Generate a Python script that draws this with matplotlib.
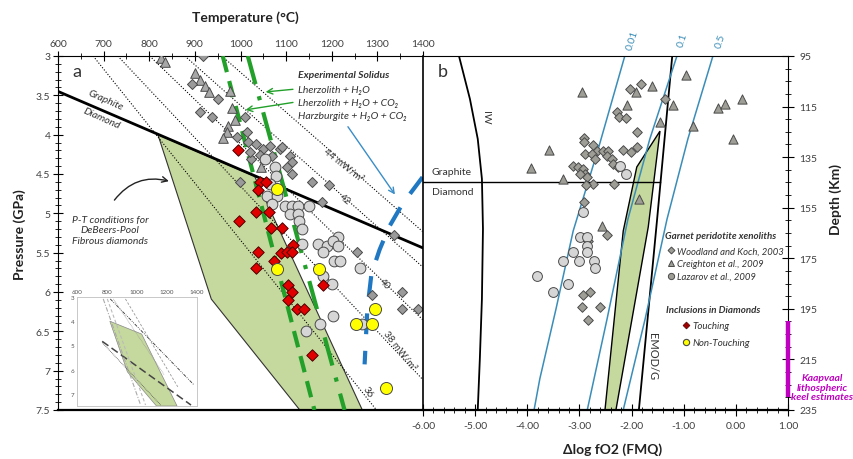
import matplotlib
matplotlib.use('agg')
import matplotlib.pyplot as plt
from matplotlib.patches import Polygon
from matplotlib.lines import Line2D
from matplotlib.ticker import MultipleLocator, FuncFormatter

plt.rcParams['font.family'] = ['Lato', 'DejaVu Sans']
plt.rcParams['axes.unicode_minus'] = False

# ---------------- panel a : temperature (C) vs pressure (GPa)
woodland_T = [917, 893, 950, 911, 937, 1009, 1014, 992, 1016, 1035, 1049, 1064, 1086, 1108, 1024, 1042,
              1070, 1090, 1112, 1103, 1112, 1020, 998, 1156, 1195, 1178, 1337, 1256, 1289, 1355, 1355, 1388]
woodland_P = [3.00, 3.36, 3.55, 3.71, 3.78, 3.78, 3.97, 4.03, 4.09, 4.12, 4.18, 4.15, 4.18, 4.27, 4.31, 4.26,
              4.27, 4.16, 4.35, 4.41, 4.50, 4.22, 4.60, 4.60, 4.64, 4.86, 5.28, 5.49, 6.04, 6.00, 6.21, 6.21]
creighton_T = [825, 834, 900, 911, 922, 930, 976, 981, 989, 972, 970, 961, 1046]
creighton_P = [3.03, 3.08, 3.22, 3.31, 3.38, 3.46, 3.45, 3.66, 3.81, 3.89, 3.97, 4.04, 4.41]
lazarov_T = [1053, 1075, 1077, 1064, 1059, 1081, 1070, 1097, 1112, 1125, 1151, 1108, 1125, 1129, 1134, 1134,
             1169, 1189, 1213, 1202, 1213, 1180, 1206, 1217, 1261, 1180, 1200, 1202, 1175, 1143, 1267]
lazarov_P = [4.31, 4.41, 4.53, 4.63, 4.78, 4.78, 4.88, 4.91, 4.91, 4.91, 4.91, 5.01, 5.01, 5.10, 5.20, 5.39,
             5.39, 5.42, 5.30, 5.35, 5.42, 5.49, 5.61, 5.61, 5.70, 5.80, 5.90, 6.31, 6.41, 6.50, 6.41]
touch_T = [994, 1042, 1055, 1038, 1035, 1062, 996, 1066, 1092, 1114, 1038, 1088, 1101, 1112, 1073, 1035,
           1105, 1112, 1105, 1123, 1140, 1156, 1180]
touch_P = [4.20, 4.60, 4.60, 4.70, 4.98, 4.98, 5.10, 5.19, 5.19, 5.40, 5.49, 5.51, 5.49, 5.49, 5.61, 5.70,
           5.91, 6.00, 6.10, 6.21, 6.21, 6.80, 5.91]
nontouch_T = [1081, 1081, 1173, 1294, 1254, 1289, 1320]
nontouch_P = [4.69, 5.71, 5.71, 6.22, 6.41, 6.41, 7.22]

# P-T field of the fibrous diamonds
field_T = [819, 1031, 1267, 1130, 936]
field_P = [4.00, 4.53, 7.50, 7.50, 6.09]
# graphite / diamond transition
gd_T = [600, 1400]
gd_P = [3.45, 5.44]
# solidi
lh2o_T = [1016, 1228]
lh2o_P = [3.0, 7.5]
lco2_T = [961, 1162]
lco2_P = [3.0, 7.5]
hz_T = [1399, 1355, 1326, 1305, 1287, 1278, 1272]
hz_P = [4.54, 4.88, 5.17, 5.46, 5.77, 6.22, 6.92]
# geotherms (mW/m2)
geo_names = ['36', '38', '40', '42', '44']
geo_T = [[677, 1298], [731, 1399], [801, 1399], [878, 1399], [959, 1399]]
geo_P = [[3.0, 7.5], [3.0, 7.11], [3.0, 6.35], [3.0, 5.68], [3.0, 5.23]]

# ---------------- panel b : delta log fO2 vs depth (km)
wk_f = [-1.82, -2.03, -1.36, -2.28, -2.24, -2.11, -1.90, -1.90, -2.16, -2.01, -2.91, -2.91, -2.74, -2.66,
        -2.89, -2.76, -2.70, -2.55, -2.45, -2.47, -2.38, -2.36, -2.26, -3.12, -3.03, -2.93, -2.89, -2.85,
        -2.74, -2.87, -2.99, -2.34, -2.91, -2.47, -2.84, -2.80, -2.93, -2.95, -2.61, -2.84]
wk_d = [106.1, 108.1, 112.0, 117.1, 119.1, 119.5, 125.1, 131.0, 132.2, 133.0, 127.4, 129.0, 130.2, 132.6,
        133.8, 133.8, 135.7, 132.6, 132.6, 134.6, 135.7, 137.7, 138.9, 138.5, 138.9, 139.7, 141.7, 142.9,
        145.6, 146.0, 141.7, 145.6, 152.7, 165.8, 168.2, 188.3, 189.5, 194.3, 194.3, 199.4]
cr_f = [-2.95, -0.96, -1.61, -1.91, -2.09, -1.21, -1.45, -0.82, -0.34, -0.21, 0.12, -0.05, -3.58, -3.93,
        -3.31, -1.86, -2.57]
cr_d = [109.2, 102.5, 106.9, 109.2, 114.4, 114.4, 121.1, 122.7, 115.6, 114.0, 112.0, 127.8, 132.2, 139.3,
        143.6, 151.6, 162.2]
lz_f = [-2.22, -2.11, -2.93, -2.99, -2.85, -2.85, -2.85, -3.12, -3.31, -3.01, -2.72, -2.70, -3.81, -3.22, -3.51]
lz_d = [138.5, 141.7, 156.7, 166.6, 166.6, 170.1, 172.5, 172.5, 176.1, 176.1, 176.1, 178.8, 182.0, 185.2, 188.3]

iw_f = [-5.31, -5.10, -4.95, -4.87, -4.85, -4.87, -4.91, -4.95]
iw_d = [95, 112, 127.8, 143.6, 163.4, 191, 214.8, 235]
iso_names = ['0.01', '0.1', '0.5']
iso_f = [[-2.13, -2.64, -3.12, -3.45, -3.76, -3.87],
         [-1.13, -1.65, -2.07, -2.47, -2.85],
         [-0.44, -0.92, -1.32, -1.74, -2.16]]
iso_d = [[95, 131.8, 164.2, 195.1, 222.7, 235],
         [95, 127.8, 159.5, 199, 235],
         [95, 127.8, 159.5, 199, 235]]
emod_f = [-1.22, -1.51, -1.86]
emod_d = [95, 159.5, 235]
fieldb_f = [-1.455, -1.90, -2.16, -2.51, -2.30, -1.68]
fieldb_d = [124.7, 138.9, 164.2, 235, 235, 162.6]
gdb_f = [-6.0, -1.455]
gdb_d = [144.8, 144.8]
keel_d = [200, 230]
depth_ticks = [95, 115, 135, 155, 175, 195, 215, 235]

# styles
c_wk, c_cr, c_lz = '#9a9a9a', '#a8a8a8', '#d6d6d6'
c_red, c_yel = '#e00000', '#ffff00'
c_edge = '#4a4a4a'
c_green = '#22a02a'
c_fill = '#c5d89d'
c_iso = '#3a8db8'
c_txt = '#333333'

fig = plt.figure(figsize=(8.54, 4.6), dpi=100)
axa = fig.add_axes([58/854, 1-411/460, 365/854, 354/460])
axb = fig.add_axes([423/854, 1-411/460, 365/854, 354/460])

# ---------- panel a
axa.add_patch(Polygon(list(zip(field_T, field_P)), closed=True, facecolor=c_fill, edgecolor='#333333', lw=0.8, zorder=1))
for T, P in zip(geo_T, geo_P):
    axa.plot(T, P, color='black', lw=0.8, ls=(0, (1, 1.6)), zorder=2)
axa.plot(gd_T, gd_P, color='black', lw=2.0, zorder=3)
axa.plot(lco2_T, lco2_P, color=c_green, lw=3, ls=(0, (4, 2.2)), zorder=3)
axa.plot(lh2o_T, lh2o_P, color=c_green, lw=3, ls=(0, (7, 3, 1, 3)), zorder=3)
axa.plot(hz_T, hz_P, color='#1f78c1', lw=3, ls=(0, (5, 4)), zorder=3)

axa.scatter(creighton_T, creighton_P, marker='^', s=48, c=c_cr, edgecolors=c_edge, linewidths=0.7, zorder=4)
axa.scatter(woodland_T, woodland_P, marker='D', s=26, c=c_wk, edgecolors=c_edge, linewidths=0.7, zorder=4)
axa.scatter(lazarov_T, lazarov_P, marker='o', s=60, c=c_lz, edgecolors=c_edge, linewidths=0.7, zorder=4)
axa.scatter(touch_T, touch_P, marker='D', s=34, c=c_red, edgecolors='#500000', linewidths=0.7, zorder=5)
axa.scatter(nontouch_T, nontouch_P, marker='o', s=75, c=c_yel, edgecolors=c_edge, linewidths=0.7, zorder=5)

axa.set_xlim(600, 1400)
axa.set_ylim(7.5, 3)
axa.xaxis.tick_top()
axa.set_xticks(range(600, 1401, 100))
axa.xaxis.set_minor_locator(MultipleLocator(50))
axa.yaxis.set_major_locator(MultipleLocator(0.5))
axa.yaxis.set_minor_locator(MultipleLocator(0.1))
axa.yaxis.set_major_formatter(FuncFormatter(lambda v, p: f'{v:g}'))
axa.tick_params(axis='x', which='both', direction='inout', top=True, bottom=False, labelsize=7.5, labelcolor='#404040', pad=2)
axa.tick_params(axis='x', which='major', length=7)
axa.tick_params(axis='x', which='minor', length=4)
axa.tick_params(axis='y', which='both', direction='inout', left=True, right=False, labelsize=7.5, labelcolor='#404040', pad=2)
axa.tick_params(axis='y', which='major', length=7)
axa.tick_params(axis='y', which='minor', length=4)
axa.spines['bottom'].set_linewidth(1.6)
axa.spines['right'].set_visible(False)

axa.text(631, 3.25, 'a', fontsize=13, color=c_txt)
axa.text(705, 3.56, 'Graphite', rotation=-24, ha='center', va='center', fontsize=7.5, style='italic', color=c_txt)
axa.text(696, 3.79, 'Diamond', rotation=-24, ha='center', va='center', fontsize=7.5, style='italic', color=c_txt)
axa.text(1125, 3.24, 'Experimental Solidus', fontsize=7.5, fontweight='bold', style='italic', color=c_txt, va='center')
axa.text(1125, 3.42, 'Lherzolith + H₂O', fontsize=7.5, style='italic', color=c_txt, va='center')
axa.text(1125, 3.585, 'Lherzolith + H₂O + CO₂', fontsize=7.5, style='italic', color=c_txt, va='center')
axa.text(1125, 3.76, 'Harzburgite + H₂O + CO₂', fontsize=7.5, style='italic', color=c_txt, va='center')
axa.annotate('', xy=(1049, 3.46), xytext=(1121, 3.42),
             arrowprops=dict(arrowstyle='->', color=c_green, lw=1))
axa.annotate('', xy=(1005, 3.69), xytext=(1121, 3.585),
             arrowprops=dict(arrowstyle='->', color=c_green, lw=1))
axa.annotate('', xy=(1342, 4.79), xytext=(1232, 3.87),
             arrowprops=dict(arrowstyle='->', color='#3a8dc8', lw=1))
axa.text(714, 5.21, 'P-T conditions for\nDeBeers-Pool\nFibrous diamonds', ha='center', va='center',
         fontsize=7.5, style='italic', color=c_txt, linespacing=1.25)
axa.annotate('', xy=(849, 4.60), xytext=(720, 4.86),
             arrowprops=dict(arrowstyle='->', color='#222222', lw=1, connectionstyle='arc3,rad=-0.35'))

geo_lab = {'44': (1226, 4.37, '44 mW/m²', -38), '42': (1228, 4.82, '42', -40),
           '40': (1315, 5.89, '40', -45), '38': (1350, 6.74, '38 mW/m²', -52), '36': (1278, 7.26, '36', -57)}
for k in geo_names:
    x, y, s, r = geo_lab[k]
    axa.text(x, y, s, rotation=r, ha='center', va='center', fontsize=7, color=c_txt)

# ---------- inset
axi = fig.add_axes([77/854, 1-407/460, 120/854, 109/460])
axi.add_patch(Polygon(list(zip(field_T, field_P)), closed=True, facecolor=c_fill, edgecolor='#888888', lw=0.5))
axi.plot([822, 1380], [3.08, 6.63], color='#333333', lw=0.6, ls=(0, (4, 1.5, 1, 1.5, 1, 1.5)))
axi.plot([768, 1360], [4.83, 7.46], color='#444444', lw=1.1, ls=(0, (5, 2.5)))
axi.plot([768, 1158], [4.88, 7.46], color='#555555', lw=0.6, ls=(0, (1, 1)))
axi.plot([775, 1024], [3.08, 7.46], color='#aaaaaa', lw=0.8, ls=(0, (4, 1.5, 1, 1.5)))
axi.plot([802, 1057], [3.08, 7.46], color='#bbbbbb', lw=0.8, ls=(0, (3, 2)))
axi.plot([923, 1272], [3.08, 6.71], color='#999999', lw=0.6, ls=(0, (3, 2)))
axi.plot([842, 1180], [3.08, 6.2], color='#999999', lw=0.5, ls=(0, (1, 1)))
axi.set_xlim(600, 1400)
axi.set_ylim(7.5, 3)
axi.xaxis.tick_top()
axi.set_xticks([600, 800, 1000, 1200, 1400])
axi.set_yticks([3, 4, 5, 6, 7])
axi.tick_params(length=0, labelsize=4.5, labelcolor='#555555', pad=2)
for sp in axi.spines.values():
    sp.set_color('#c8c8c8')
    sp.set_linewidth(0.7)

# ---------- panel b
axb.add_patch(Polygon(list(zip(fieldb_f, fieldb_d)), closed=True, facecolor=c_fill, edgecolor='black', lw=1.0, zorder=1))
axb.plot(iw_f, iw_d, color='black', lw=1.3, zorder=2)
axb.plot(emod_f, emod_d, color='black', lw=1.3, zorder=2)
for f, d, nm in zip(iso_f, iso_d, iso_names):
    axb.plot(f, d, color=c_iso, lw=1.1, zorder=2)
axb.plot(gdb_f, gdb_d, color='black', lw=1.0, zorder=2)
axb.scatter(cr_f, cr_d, marker='^', s=44, c='#9e9e96', edgecolors=c_edge, linewidths=0.7, zorder=4)
axb.scatter(wk_f, wk_d, marker='D', s=24, c='#9e9e96', edgecolors=c_edge, linewidths=0.7, zorder=4)
axb.scatter(lz_f, lz_d, marker='o', s=50, c=c_lz, edgecolors=c_edge, linewidths=0.7, zorder=4)
axb.plot([1.0, 1.0], keel_d, color='#c000c0', lw=3.2, clip_on=False, zorder=6, solid_capstyle='butt')

axb.set_xlim(-6, 1)
axb.set_ylim(235, 95)
axb.yaxis.tick_right()
axb.xaxis.set_major_locator(MultipleLocator(1))
axb.xaxis.set_minor_locator(MultipleLocator(0.2))
axb.xaxis.set_major_formatter(FuncFormatter(lambda v, p: f'{v:.2f}'))
axb.set_yticks(depth_ticks)
axb.yaxis.set_minor_locator(MultipleLocator(5))
axb.tick_params(axis='both', which='both', direction='inout', labelsize=7.5, labelcolor='#404040')
axb.tick_params(axis='x', which='both', top=False, bottom=True, pad=4)
axb.tick_params(axis='y', which='both', left=False, right=True, pad=4)
axb.tick_params(which='major', length=8)
axb.tick_params(which='minor', length=4)
axb.spines['left'].set_linewidth(1.2)
axb.spines['bottom'].set_linewidth(1.6)

axb.text(-5.72, 103, 'b', fontsize=13, color=c_txt)
axb.text(-4.80, 119, 'IW', rotation=-90, ha='center', va='center', fontsize=7.5, color=c_txt)
axb.text(-1.60, 213.5, 'EMOD/G', rotation=-90, ha='center', va='center', fontsize=8, color=c_txt)
axb.text(-5.83, 142.3, 'Graphite', ha='left', va='bottom', fontsize=7.5, color=c_txt)
axb.text(-5.83, 147.0, 'Diamond', ha='left', va='top', fontsize=7.5, color=c_txt)
iso_lab = [(-1.99, 88.6), (-1.03, 88.4), (-0.30, 89.0)]
for (x, y), nm in zip(iso_lab, iso_names):
    axb.text(x, y, nm, rotation=72, ha='center', va='center', fontsize=7.5, color=c_iso, clip_on=False)
axb.text(1.66, 226.0, 'Kaapvaal\nlithospheric\nkeel estimates', ha='center', va='center', fontsize=7.5,
         fontweight='bold', style='italic', color='#c000c0', linespacing=1.05, clip_on=False)

# legends
axb.text(0.664, 0.492, 'Garnet peridotite xenoliths', transform=axb.transAxes, fontsize=7,
         fontweight='bold', style='italic', color=c_txt, va='center')
h1 = [Line2D([], [], ls='', marker='D', ms=3.5, mfc='#9e9e96', mec=c_edge, mew=0.7),
      Line2D([], [], ls='', marker='^', ms=4.5, mfc='#9e9e96', mec=c_edge, mew=0.7),
      Line2D([], [], ls='', marker='o', ms=4.5, mfc='#9e9e96', mec=c_edge, mew=0.7)]
leg1 = axb.legend(h1, ['Woodland and Koch, 2003', 'Creighton et al., 2009', 'Lazarov et al., 2009'],
                  loc='upper left', bbox_to_anchor=(0.655, 0.475), frameon=False, borderpad=0,
                  handlelength=0.8, handletextpad=0.3, labelspacing=0.4,
                  prop={'style': 'italic', 'size': 6.8})
for t in leg1.get_texts():
    t.set_color(c_txt)
axb.add_artist(leg1)
axb.text(0.666, 0.283, 'Inclusions in Diamonds', transform=axb.transAxes, fontsize=7,
         fontweight='bold', style='italic', color=c_txt, va='center')
h2 = [Line2D([], [], ls='', marker='D', ms=3.5, mfc='#a00000', mec='#500000', mew=0.5),
      Line2D([], [], ls='', marker='o', ms=4.5, mfc=c_yel, mec=c_edge, mew=0.8)]
leg2 = axb.legend(h2, ['Touching', 'Non-Touching'], loc='upper left', bbox_to_anchor=(0.697, 0.265),
                  frameon=False, borderpad=0, handlelength=0.8, handletextpad=0.3, labelspacing=0.85,
                  prop={'style': 'italic', 'size': 7})
for t in leg2.get_texts():
    t.set_color(c_txt)

# axis titles
fig.text(245/854, 1-18/460, 'Temperature (°C)', ha='center', va='center', fontsize=10, fontweight='bold', color='#222222')
fig.text(20/854, 1-235/460, 'Pressure (GPa)', ha='center', va='center', rotation=90, fontsize=10, fontweight='bold', color='#222222')
fig.text(613/854, 1-450/460, 'Δlog fO2 (FMQ)', ha='center', va='center', fontsize=10, fontweight='bold', color='#222222')
fig.text(836/854, 1-200/460, 'Depth (Km)', ha='center', va='center', rotation=90, fontsize=10, fontweight='bold', color='#222222')

fig.savefig('out.png', dpi=100)
